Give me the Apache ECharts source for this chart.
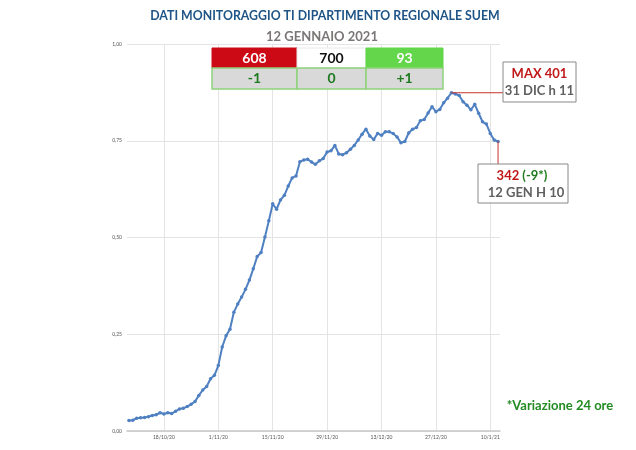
<!DOCTYPE html>
<html>
<head>
<meta charset="utf-8">
<script src="https://cdn.jsdelivr.net/npm/echarts@6/dist/echarts.min.js"></script>
<style>
  html, body { margin: 0; padding: 0; background: #fff; }
  #chart { width: 636px; height: 450px; }
</style>
</head>
<body>
<div id="chart"></div>
<script>
// serie giornaliera dal 9/10/20 al 12/1/21
const firstDay = [2020, 9, 9];
const occupancy = [
  0.027, 0.028, 0.033, 0.034, 0.035, 0.037, 0.040, 0.042, 0.047, 0.044,
  0.047, 0.045, 0.051, 0.057, 0.059, 0.063, 0.069, 0.076, 0.092, 0.106,
  0.115, 0.135, 0.144, 0.169, 0.217, 0.246, 0.263, 0.307, 0.328, 0.346,
  0.366, 0.390, 0.419, 0.451, 0.461, 0.501, 0.543, 0.587, 0.573, 0.597,
  0.609, 0.633, 0.654, 0.659, 0.696, 0.700, 0.702, 0.695, 0.689, 0.698,
  0.704, 0.721, 0.724, 0.738, 0.716, 0.714, 0.719, 0.728, 0.738, 0.752,
  0.767, 0.780, 0.762, 0.753, 0.769, 0.764, 0.773, 0.773, 0.769, 0.760,
  0.745, 0.748, 0.770, 0.780, 0.784, 0.802, 0.805, 0.822, 0.838, 0.825,
  0.831, 0.848, 0.860, 0.874, 0.871, 0.867, 0.851, 0.842, 0.830, 0.844,
  0.821, 0.799, 0.793, 0.769, 0.752, 0.748
];
const tickLabels = ['18/10/20', '1/11/20', '15/11/20', '29/11/20', '13/12/20', '27/12/20', '10/1/21'];
const totals = ['608', '700', '93'];
const deltas = ['-1', '0', '+1'];
const maxNote = ['MAX 401', '31 DIC h 11'];
const lastNote = ['342', ' (-9*)', '12 GEN H 10'];

const days = occupancy.map((v, i) => {
  const d = new Date(firstDay[0], firstDay[1], firstDay[2] + i);
  return d.getDate() + '/' + (d.getMonth() + 1) + '/' + String(d.getFullYear()).slice(2);
});

const FONT = 'Lato, "Open Sans", sans-serif';
const showTick = (idx, name) => tickLabels.indexOf(name) >= 0;

var myChart = echarts.init(document.getElementById('chart'));
myChart.setOption({
  backgroundColor: '#fff',
  animation: false,
  grid: { left: 127, right: 136, top: 44, bottom: 19 },
  xAxis: {
    type: 'category',
    data: days,
    boundaryGap: true,
    axisLine: { lineStyle: { color: '#c8c8c8', width: 1.5 } },
    axisTick: { show: false },
    axisLabel: { interval: showTick, fontSize: 5, color: '#555', margin: 4, fontFamily: FONT },
    splitLine: { show: true, interval: showTick, alignWithLabel: true, lineStyle: { color: '#e4e4e4', width: 1 } }
  },
  yAxis: {
    type: 'value',
    min: 0, max: 1, interval: 0.25,
    axisLine: { show: false },
    axisTick: { show: false },
    axisLabel: {
      fontSize: 5, color: '#555', margin: 5, fontFamily: FONT,
      formatter: v => v.toFixed(2).replace('.', ',')
    },
    splitLine: { lineStyle: { color: '#e4e4e4', width: 1 } }
  },
  series: [{
    type: 'line',
    data: occupancy,
    symbol: 'circle',
    symbolSize: 3.5,
    showAllSymbol: true,
    itemStyle: { color: '#4f80c2' },
    lineStyle: { color: '#4f80c2', width: 2 }
  }]
});

// annotazioni
const maxIdx = occupancy.indexOf(Math.max(...occupancy));
const lastIdx = occupancy.length - 1;
const pMax = myChart.convertToPixel({ seriesIndex: 0 }, [maxIdx, occupancy[maxIdx]]);
const pLast = myChart.convertToPixel({ seriesIndex: 0 }, [lastIdx, occupancy[lastIdx]]);

const cellX = [212, 297, 366, 443];
const topFill = ['#cc0a16', '#ffffff', '#63d64b'];
const topText = ['#fff', '#111', '#fff'];
const graphic = [
  { type: 'text', x: 325, y: 15, scaleX: 0.88, style: { text: 'DATI MONITORAGGIO TI DIPARTIMENTO REGIONALE SUEM', font: 'bold 14px ' + FONT, fill: '#1f5486', align: 'center', verticalAlign: 'middle' } },
  { type: 'text', x: 322, y: 37, style: { text: '12 GENNAIO 2021', font: 'bold 13px ' + FONT, fill: '#7a7676', align: 'center', verticalAlign: 'middle' } }
];
for (let i = 0; i < 3; i++) {
  const x0 = cellX[i], w = cellX[i + 1] - cellX[i];
  graphic.push({ type: 'rect', shape: { x: x0, y: 48, width: w, height: 20 }, style: { fill: topFill[i], stroke: i === 1 ? '#e8e8e8' : topFill[i], lineWidth: 1 }, z: 10 });
  graphic.push({ type: 'text', x: x0 + w / 2, y: 58, style: { text: totals[i], font: 'bold 14px ' + FONT, fill: topText[i], align: 'center', verticalAlign: 'middle' }, z: 11 });
  graphic.push({ type: 'rect', shape: { x: x0, y: 68, width: w, height: 21 }, style: { fill: '#d9d9d9', stroke: '#8fd27a', lineWidth: 1.5 }, z: 10 });
  graphic.push({ type: 'text', x: x0 + w / 2, y: 78.5, style: { text: deltas[i], font: 'bold 14px ' + FONT, fill: '#1e7a1e', align: 'center', verticalAlign: 'middle' }, z: 11 });
}
// linea e box del massimo
graphic.push({ type: 'line', shape: { x1: pMax[0], y1: pMax[1], x2: 503, y2: pMax[1] }, style: { stroke: '#c8322e', lineWidth: 1 }, z: 9 });
graphic.push({ type: 'rect', shape: { x: 503, y: 62, width: 73, height: 40 }, style: { fill: '#fff', stroke: '#888', lineWidth: 1 }, z: 10 });
graphic.push({ type: 'text', x: 539.5, y: 73.5, style: { text: maxNote[0], font: 'bold 13px ' + FONT, fill: '#c01818', align: 'center', verticalAlign: 'middle' }, z: 11 });
graphic.push({ type: 'text', x: 539.5, y: 91, style: { text: maxNote[1], font: 'bold 13px ' + FONT, fill: '#606060', align: 'center', verticalAlign: 'middle' }, z: 11 });
// linea e box dell'ultimo valore
graphic.push({ type: 'line', shape: { x1: pLast[0], y1: pLast[1], x2: pLast[0], y2: 164 }, style: { stroke: '#c8322e', lineWidth: 1 }, z: 9 });
graphic.push({ type: 'rect', shape: { x: 478, y: 164, width: 90, height: 39 }, style: { fill: '#fff', stroke: '#888', lineWidth: 1 }, z: 10 });
graphic.push({ type: 'text', x: 522, y: 176, style: { rich: { r: { font: 'bold 13px ' + FONT, fill: '#c01818' }, g: { font: 'bold 13px ' + FONT, fill: '#1e7a1e' } }, text: '{r|' + lastNote[0] + '}{g|' + lastNote[1] + '}', align: 'center', verticalAlign: 'middle' }, z: 11 });
graphic.push({ type: 'text', x: 526, y: 193, style: { text: lastNote[2], font: 'bold 13px ' + FONT, fill: '#606060', align: 'center', verticalAlign: 'middle' }, z: 11 });
// nota
graphic.push({ type: 'text', x: 560, y: 406, style: { text: '*Variazione 24 ore', font: 'bold 13px ' + FONT, fill: '#228b22', align: 'center', verticalAlign: 'middle' } });

myChart.setOption({ graphic: graphic });
</script>
</body>
</html>
